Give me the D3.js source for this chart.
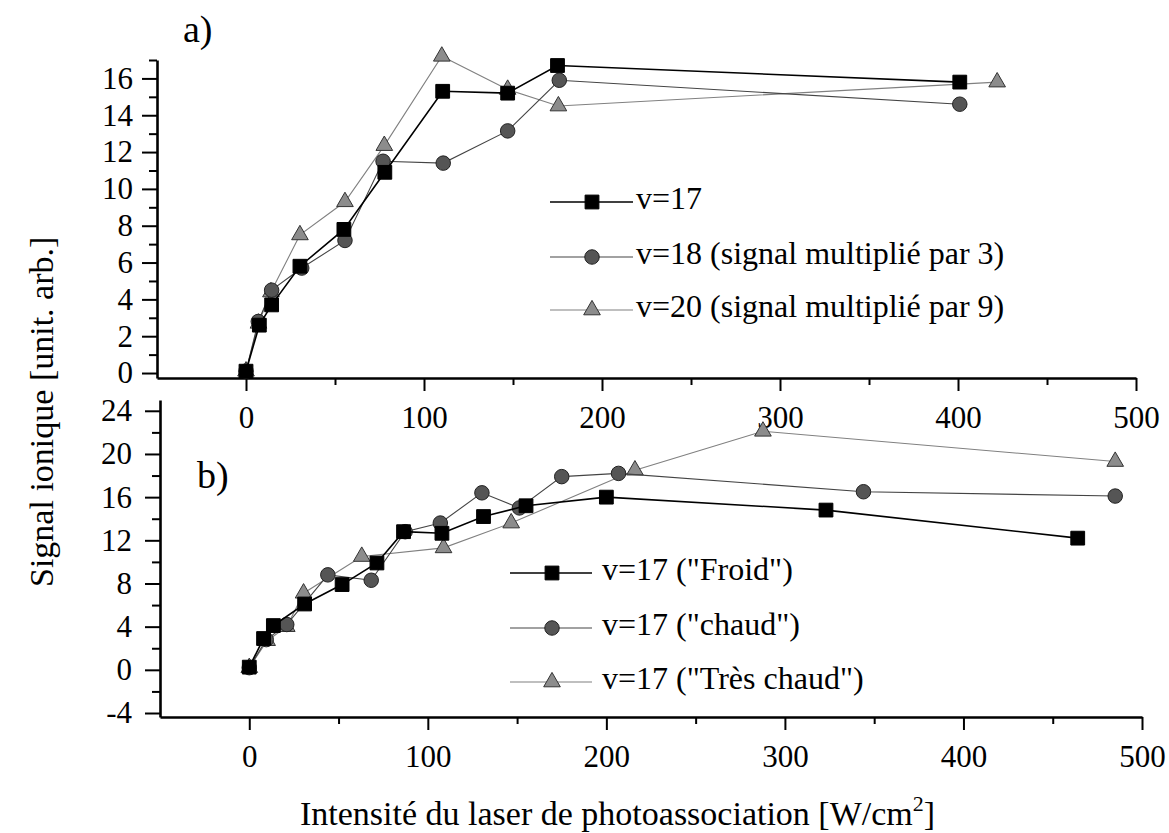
<!DOCTYPE html>
<html>
<head>
<meta charset="utf-8">
<script src="https://cdn.jsdelivr.net/npm/d3@7"></script>
<style>
  body { margin: 0; background: #fff; }
</style>
</head>
<body>
<div id="chart"></div>
<script>
// ---- panel a) data ----
const aV17x = [0, 7.5, 14.4, 30.3, 55, 78, 110.5, 147, 175, 401];
const aV17y = [0.1, 2.6, 3.7, 5.8, 7.8, 10.9, 15.3, 15.2, 16.7, 15.8];
const aV18x = [0, 6.9, 14.4, 31.3, 55.6, 77, 110.8, 147, 176, 401];
const aV18y = [0.1, 2.8, 4.5, 5.7, 7.2, 11.5, 11.4, 13.15, 15.9, 14.6];
const aV20x = [0, 7, 14, 30.3, 55.6, 77.7, 110, 147, 175.5, 422];
const aV20y = [0.1, 2.7, 4.4, 7.5, 9.3, 12.35, 17.2, 15.4, 14.5, 15.8];
const aLabels = ['v=17', 'v=18 (signal multiplié par 3)', 'v=20 (signal multiplié par 9)'];

// ---- panel b) data ----
const bFroidX = [0, 8, 13.5, 31, 52, 71.5, 86.4, 107.9, 131.2, 155, 200, 323, 464];
const bFroidY = [0.25, 2.9, 4.1, 6.1, 7.9, 9.9, 12.8, 12.65, 14.2, 15.2, 16.0, 14.8, 12.2];
const bChaudX = [0, 9.5, 21, 44, 68.3, 87.3, 107, 130.3, 151.3, 175, 206.8, 344, 485];
const bChaudY = [0.2, 2.8, 4.2, 8.8, 8.3, 12.8, 13.6, 16.4, 15.0, 17.9, 18.2, 16.5, 16.1];
const bTresX = [0, 10, 21, 30.4, 63, 108.8, 146.7, 216, 287.7, 485];
const bTresY = [0.2, 2.7, 4.0, 7.1, 10.5, 11.3, 13.6, 18.5, 22.1, 19.3];
const bLabels = ['v=17 ("Froid")', 'v=17 ("chaud")', 'v=17 ("Très chaud")'];

// ---- tick values ----
const xMajor = [0, 100, 200, 300, 400, 500];
const xMinor = [50, 150, 250, 350, 450];
const aYMajor = [0, 2, 4, 6, 8, 10, 12, 14, 16];
const aYMinor = [1, 3, 5, 7, 9, 11, 13, 15, 17];
const bYMajor = [-4, 0, 4, 8, 12, 16, 20, 24];
const bYMinor = [-2, 2, 6, 10, 14, 18, 22];

const serif = 'Liberation Serif';

const svg = d3.select('#chart').append('svg')
  .attr('width', 1169)
  .attr('height', 833)
  .attr('font-family', serif);

// scales (the two panels are stacked, sharing the x range)
const xA = d3.scaleLinear().domain([-50, 500]).range([157, 1136]);
const yA = d3.scaleLinear().domain([-0.27, 17]).range([378, 60]);
const xB = d3.scaleLinear().domain([-50, 500]).range([160, 1142]);
const yB = d3.scaleLinear().domain([-4.37, 25]).range([717, 400]);

// marker / line styles per series slot
const styles = [
  { shape: d3.symbolSquare, size: 190, fill: '#000', stroke: '#000', line: '#000', lw: 1.6 },
  { shape: d3.symbolCircle, size: 165, fill: '#555', stroke: '#222', line: '#444', lw: 1.1 },
  { shape: d3.symbolTriangle, size: 120, fill: '#8c8c8c', stroke: '#333', line: '#808080', lw: 1.1 }
];

// serif face + size as plain attributes
function face(sel, size) {
  return sel.attr('font-family', serif).attr('font-size', size);
}

function drawAxes(x, y, yMajor, yMinor, yPad) {
  const yBase = y.range()[0];
  const xBase = x.range()[0];

  // x minor
  svg.append('g')
    .attr('transform', `translate(0,${yBase})`)
    .call(d3.axisBottom(x).tickValues(xMinor).tickSize(7).tickFormat(''))
    .call(g => g.select('.domain').remove())
    .selectAll('line').attr('stroke-width', 2);

  // x major
  const gx = svg.append('g')
    .attr('transform', `translate(0,${yBase})`)
    .call(d3.axisBottom(x).tickValues(xMajor).tickSize(13).tickPadding(15).tickSizeOuter(0));
  face(gx, 31);
  gx.select('.domain').attr('stroke-width', 2.6);
  gx.selectAll('line').attr('stroke-width', 2);
  face(gx.selectAll('text'), 31);

  // y minor
  svg.append('g')
    .attr('transform', `translate(${xBase},0)`)
    .call(d3.axisLeft(y).tickValues(yMinor).tickSize(8).tickFormat(''))
    .call(g => g.select('.domain').remove())
    .selectAll('line').attr('stroke-width', 2);

  // y major
  const gy = svg.append('g')
    .attr('transform', `translate(${xBase},0)`)
    .call(d3.axisLeft(y).tickValues(yMajor).tickSize(15).tickPadding(yPad)
      .tickSizeOuter(0).tickFormat(d => String(d)));
  face(gy, 31);
  gy.select('.domain').attr('stroke-width', 2.6);
  gy.selectAll('line').attr('stroke-width', 2);
  face(gy.selectAll('text'), 31);
}

function drawSeries(x, y, xs, ys, st) {
  const pts = xs.map((v, i) => ({ x: v, y: ys[i] }));
  svg.append('path')
    .datum(pts)
    .attr('fill', 'none')
    .attr('stroke', st.line)
    .attr('stroke-width', st.lw)
    .attr('d', d3.line().x(d => x(d.x)).y(d => y(d.y)));
  svg.append('g')
    .selectAll('path')
    .data(pts)
    .enter()
    .append('path')
    .attr('transform', d => `translate(${x(d.x)},${y(d.y)})`)
    .attr('d', d3.symbol().type(st.shape).size(st.size))
    .attr('fill', st.fill)
    .attr('stroke', st.stroke)
    .attr('stroke-width', 1);
}

function drawLegend(labels, x0, x1, xm, xt, ys) {
  labels.forEach((lab, i) => {
    const st = styles[i];
    svg.append('line')
      .attr('x1', x0).attr('x2', x1)
      .attr('y1', ys[i]).attr('y2', ys[i])
      .attr('stroke', st.line)
      .attr('stroke-width', st.lw);
    svg.append('path')
      .attr('transform', `translate(${xm},${ys[i]})`)
      .attr('d', d3.symbol().type(st.shape).size(st.size))
      .attr('fill', st.fill)
      .attr('stroke', st.stroke);
    const t = svg.append('text')
      .attr('x', xt)
      .attr('y', ys[i] + 7)
      .text(lab);
    face(t, 32);
  });
}

// ---- panel a) ----
drawAxes(xA, yA, aYMajor, aYMinor, 9);
drawSeries(xA, yA, aV20x, aV20y, styles[2]);
drawSeries(xA, yA, aV18x, aV18y, styles[1]);
drawSeries(xA, yA, aV17x, aV17y, styles[0]);
drawLegend(aLabels, 550, 633, 592, 636, [202, 257, 310]);

face(svg.append('text').attr('x', 183).attr('y', 42).text('a)'), 38);

// ---- panel b) ----
drawAxes(xB, yB, bYMajor, bYMinor, 13);
drawSeries(xB, yB, bTresX, bTresY, styles[2]);
drawSeries(xB, yB, bChaudX, bChaudY, styles[1]);
drawSeries(xB, yB, bFroidX, bFroidY, styles[0]);
drawLegend(bLabels, 510, 592, 552, 602, [573, 628, 682]);

face(svg.append('text').attr('x', 197).attr('y', 488).text('b)'), 38);

// ---- axis titles ----
const xTitle = svg.append('text')
  .attr('x', 300)
  .attr('y', 825);
face(xTitle, 34);
xTitle.append('tspan').text('Intensité du laser de photoassociation [W/cm');
xTitle.append('tspan').attr('dy', -14).attr('font-size', 22).text('2');
xTitle.append('tspan').attr('dy', 14).text(']');

const yTitle = svg.append('text')
  .attr('transform', 'translate(53,587) rotate(-90)')
  .text('Signal ionique [unit. arb.]');
face(yTitle, 34);
</script>
</body>
</html>
